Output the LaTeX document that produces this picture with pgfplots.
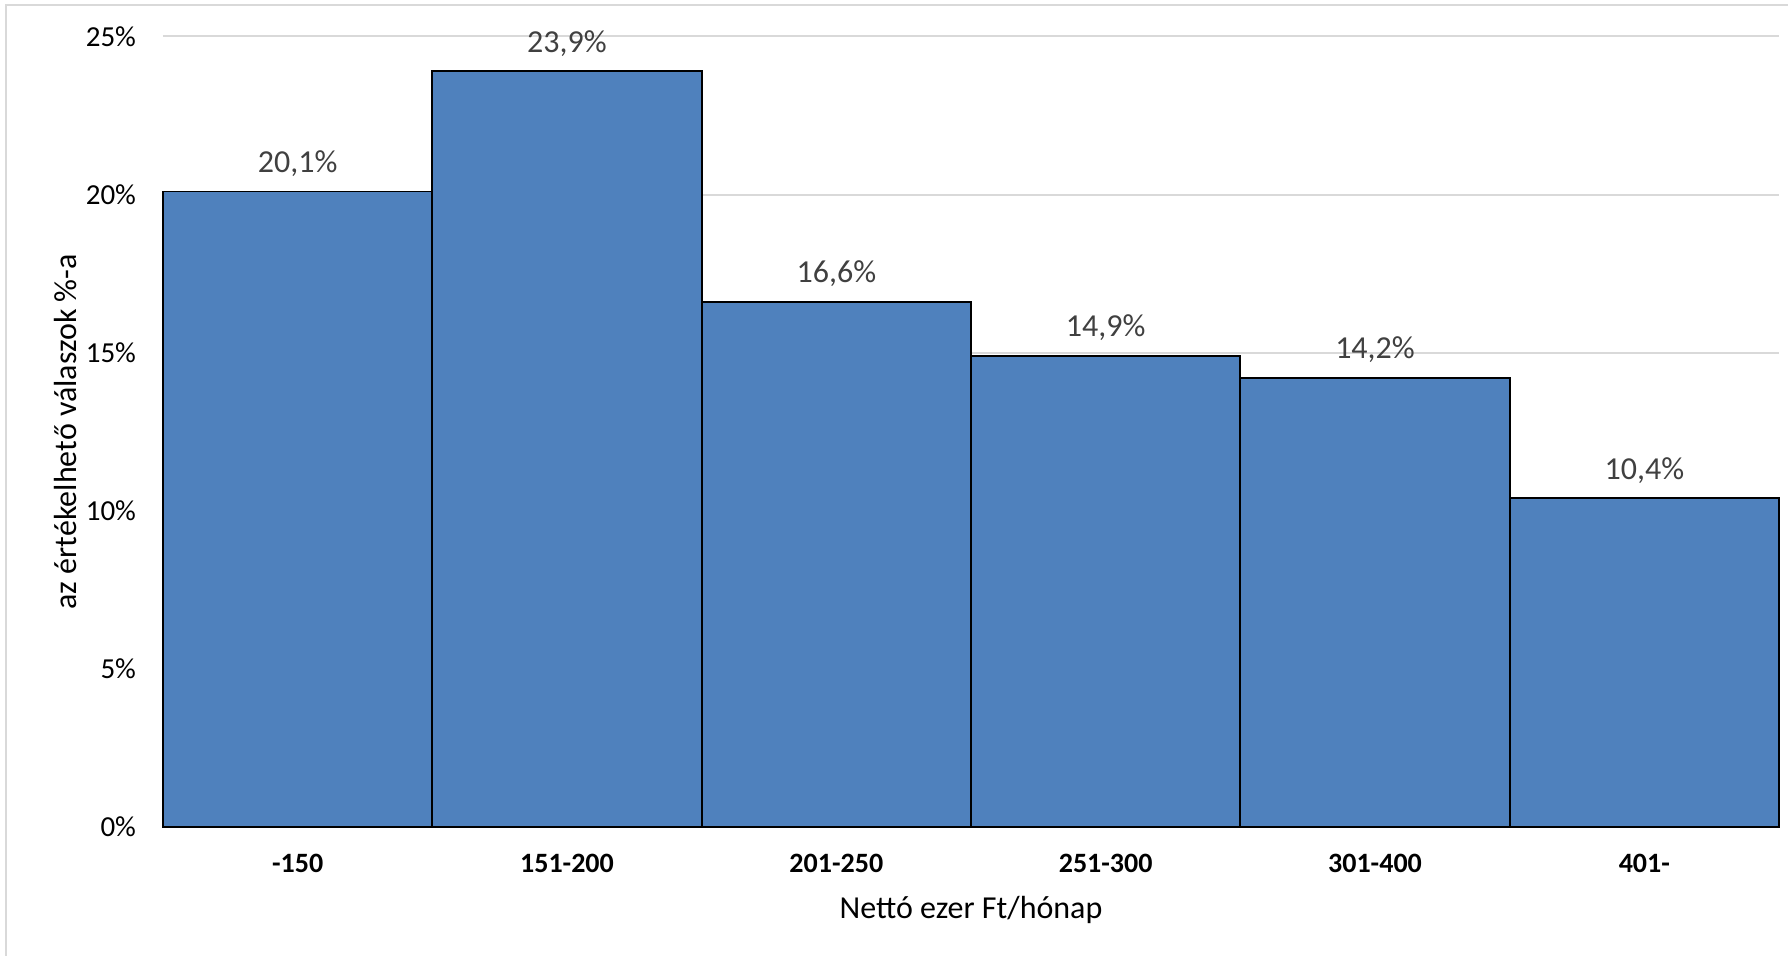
\documentclass[border=0pt]{standalone}
\usepackage{pgfplots}
\pgfplotsset{compat=1.18}
\usepackage{fontspec}
\setmainfont{Carlito}
\definecolor{barblue}{HTML}{4F81BD}
\definecolor{gridgray}{HTML}{D9D9D9}
\definecolor{lblgray}{HTML}{404040}
\begin{document}
\begin{tikzpicture}
\useasboundingbox (0,0) rectangle (894pt,478pt);
\draw[gridgray, line width=1pt] (3pt,0) -- (3pt,475.5pt) -- (894pt,475.5pt);
\begin{axis}[
  at={(81.5pt,64.5pt)}, anchor=south west,
  scale only axis,
  width=808pt, height=395.25pt,
  xmin=-0.5, xmax=5.5,
  ymin=0, ymax=25,
  ytick={0,5,10,15,20,25},
  yticklabel={\pgfmathprintnumber{\tick}\%},
  xtick={0,1,2,3,4,5},
  xticklabels={-150,151-200,201-250,251-300,301-400,401-},
  /pgf/number format/assume math mode=true,
  axis x line*=bottom,
  x axis line style={draw=gridgray, line width=1pt},
  y axis line style={draw=none},
  ymajorgrids,
  grid style={gridgray, line width=1pt},
  major tick length=0pt,
  tick style={draw=none},
  font=\fontsize{16}{18}\selectfont,
  yticklabel style={anchor=east, xshift=-10pt, text=black, font=\fontsize{14.5}{16}\selectfont},
  xticklabel style={font=\fontsize{14}{16}\selectfont\bfseries, yshift=-10pt},
  ylabel={az értékelhető válaszok \%-a},
  ylabel style={at={(axis description cs:-0.0606,0.5)}, anchor=center},
  xlabel={Nettó ezer Ft/hónap},
  xlabel style={at={(axis description cs:0.5,0)}, yshift=-41.5pt, anchor=center},
  clip=false,
]
\addplot[ybar, bar width=1, fill=barblue, draw=black, line width=0.9pt,
  nodes near coords={\pgfmathprintnumber[fixed,precision=1,fixed zerofill,use comma]{\pgfplotspointmeta}\%},
  nodes near coords style={anchor=center, yshift=14pt, text=lblgray, font=\fontsize{16}{18}\selectfont}]
  coordinates {(0,20.1) (1,23.9) (2,16.6) (3,14.9) (4,14.2) (5,10.4)};
\end{axis}
\end{tikzpicture}
\end{document}
